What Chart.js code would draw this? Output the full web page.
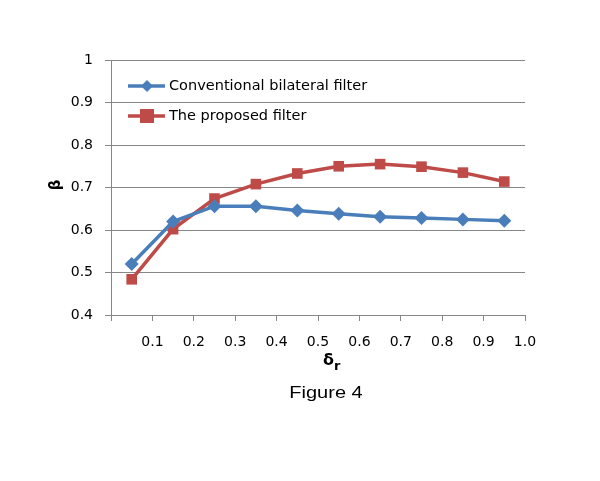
<!DOCTYPE html>
<html>
<head>
<meta charset="utf-8">
<script src="https://cdn.jsdelivr.net/npm/chart.js@4.4.0/dist/chart.umd.min.js"></script>
<style>
  html, body { margin: 0; padding: 0; background: #fff; }
  #wrap { width: 600px; height: 481px; }
</style>
</head>
<body>
<div id="wrap"><canvas id="betaChart" width="600" height="481"></canvas></div>
<script>
// values
var deltaR = [0.05, 0.15, 0.25, 0.35, 0.45, 0.55, 0.65, 0.75, 0.85, 0.95];
var bilateral = [0.520, 0.620, 0.656, 0.656, 0.646, 0.638, 0.631, 0.628, 0.625, 0.622];
var proposed  = [0.484, 0.602, 0.674, 0.708, 0.733, 0.750, 0.755, 0.749, 0.735, 0.714];
var seriesNames = ['Conventional bilateral filter', 'The proposed filter'];

var blue = '#4a7ebb';
var red = '#be4b48';
var gridColor = '#878787';
var tickFont = { family: 'DejaVu Sans', size: 14 };

function toPoints(vals) {
  return vals.map(function(v, i) { return { x: deltaR[i], y: v }; });
}

// legend inside the plot, axis titles and the caption
var extras = {
  id: 'extras',
  afterDraw: function(chart) {
    var ctx = chart.ctx;
    var area = chart.chartArea;
    ctx.save();
    // legend
    chart.data.datasets.forEach(function(ds, i) {
      var y = 86 + i * 30;
      var x0 = 128, x1 = 165, mx = 147;
      ctx.strokeStyle = ds.borderColor;
      ctx.lineWidth = 3.5;
      ctx.beginPath();
      ctx.moveTo(x0, y);
      ctx.lineTo(x1, y);
      ctx.stroke();
      ctx.fillStyle = ds.borderColor;
      if (ds.pointStyle === 'rect') {
        ctx.fillRect(mx - 7, y - 7, 14, 14);
      } else {
        ctx.beginPath();
        ctx.moveTo(mx, y - 6);
        ctx.lineTo(mx + 6, y);
        ctx.lineTo(mx, y + 6);
        ctx.lineTo(mx - 6, y);
        ctx.closePath();
        ctx.fill();
      }
      ctx.fillStyle = '#000';
      ctx.font = '14.5px "DejaVu Sans"';
      ctx.textAlign = 'left';
      ctx.textBaseline = 'middle';
      ctx.fillText(ds.label, 169, y);
    });
    // y title, rotated like the original
    ctx.fillStyle = '#000';
    ctx.textAlign = 'center';
    ctx.textBaseline = 'middle';
    ctx.save();
    ctx.translate(56, 185);
    ctx.rotate(-Math.PI / 2);
    ctx.font = 'bold 15px "DejaVu Sans"';
    ctx.fillText('β', 0, 0);
    ctx.restore();
    // x title with subscript
    ctx.font = 'bold 16px "DejaVu Sans"';
    ctx.textAlign = 'right';
    ctx.fillText('δ', 334, 361);
    ctx.font = 'bold 13px "DejaVu Sans"';
    ctx.textAlign = 'left';
    ctx.fillText('r', 334, 367);
    // caption
    ctx.save();
    ctx.translate(326, 394);
    ctx.scale(1.25, 1);
    ctx.font = '16px "Liberation Sans"';
    ctx.textAlign = 'center';
    ctx.fillText('Figure 4', 0, 0);
    ctx.restore();
    ctx.restore();
  }
};

var chart = new Chart(document.getElementById('betaChart').getContext('2d'), {
  type: 'line',
  data: {
    datasets: [{
      label: seriesNames[0],
      data: toPoints(bilateral),
      borderColor: blue,
      backgroundColor: blue,
      borderWidth: 3.5,
      pointStyle: 'rectRot',
      pointRadius: 7,
      pointHoverRadius: 7,
      pointBorderWidth: 0,
      fill: false,
      tension: 0,
    },
    {
      label: seriesNames[1],
      data: toPoints(proposed),
      borderColor: red,
      backgroundColor: red,
      borderWidth: 3.5,
      pointStyle: 'rect',
      pointRadius: 7.5,
      pointHoverRadius: 7.5,
      pointBorderWidth: 0,
      fill: false,
      tension: 0,
    },
    ],
  },
  options: {
    responsive: false,
    animation: false,
    events: [],
    layout: { padding: { top: 60, right: 75, left: 0, bottom: 0 } },
    plugins: {
      legend: { display: false },
      tooltip: { enabled: false },
    },
    scales: {
      x: {
        type: 'linear',
        min: 0,
        max: 1,
        afterFit: function(scale) { scale.height = 166; },
        grid: { display: true, drawOnChartArea: false, drawTicks: true, tickLength: 6, tickColor: gridColor },
        border: { color: gridColor, width: 1 },
        ticks: {
          stepSize: 0.1,
          color: '#000',
          font: tickFont,
          padding: 13,
          maxRotation: 0,
          autoSkip: false,
          callback: function(v) { return v === 0 ? '' : v.toFixed(1); },
        },
      },
      y: {
        min: 0.4,
        max: 1,
        afterFit: function(scale) { scale.width = 111; },
        grid: { color: gridColor, lineWidth: 1, drawTicks: true, tickLength: 6, tickColor: gridColor },
        border: { color: gridColor, width: 1 },
        ticks: {
          stepSize: 0.1,
          color: '#000',
          font: tickFont,
          padding: 12,
          callback: function(v) { return v === 1 ? '1' : v.toFixed(1); },
        },
      },
    },
  },
  plugins: [extras],
});
</script>
</body>
</html>
